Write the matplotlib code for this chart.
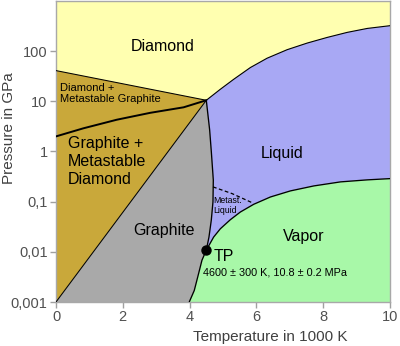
import matplotlib
matplotlib.use("Agg")
import matplotlib.pyplot as plt
import numpy as np

plt.rcParams['font.family'] = ['Liberation Sans', 'DejaVu Sans']

# --- data (T in 1000 K, P in GPa) ---
triple_T, triple_P = 4.5, 10.5          # diamond / graphite / liquid
tp_T, tp_P = 4.5, 0.0108                # graphite / liquid / vapor (TP)

upper_T = [0, 4.5]                       # Diamond | Diamond + metastable graphite
upper_P = [41, 10.5]
gd_T = [0, 0.82, 1.82, 2.82, 3.82, 4.5]  # graphite / diamond equilibrium
gd_P = [2.0, 2.9, 4.3, 5.9, 7.6, 10.5]
gedge_T = [0, 4.5]                       # graphite region edge
gedge_P = [0.001, 10.5]
melt_T = [4.5, 4.6, 4.65, 4.71, 4.7, 4.65, 4.58, 4.5]
melt_P = [10.5, 2.7, 1.0, 0.27, 0.1, 0.043, 0.0197, 0.0108]
sub_T = [3.99, 4.14, 4.27, 4.37, 4.5]
sub_P = [0.001, 0.0017, 0.0037, 0.0068, 0.0108]
lv_T = [4.5, 4.72, 4.92, 5.22, 5.52, 5.92, 6.42, 7.02, 7.72, 8.52, 9.32, 10]
lv_P = [0.0108, 0.0197, 0.0288, 0.0437, 0.0622, 0.0887, 0.124, 0.164, 0.206, 0.248, 0.272, 0.288]
dl_T = [4.5, 4.92, 5.32, 5.82, 6.32, 6.92, 7.52, 8.12, 8.72, 9.32, 10]
dl_P = [10.5, 17.4, 27.5, 47.2, 72.4, 107, 145, 188, 237, 284, 322]
meta_T = [4.7, 5.27, 5.87]
meta_P = [0.197, 0.145, 0.0955]

x_ticks = [0, 2, 4, 6, 8, 10]
y_ticks = [0.001, 0.01, 0.1, 1, 10, 100]
y_ticklabels = ['0,001', '0,01', '0,1', '1', '10', '100']

c_diamond = '#FFFFB0'
c_gold = '#C9A83A'
c_graphite = '#A9A9A9'
c_liquid = '#A8A8F4'
c_vapor = '#A8F8A8'

fig = plt.figure(figsize=(4.0, 3.46), dpi=100)
ax = fig.add_axes([56/400, 44/346, 334/400, 301/346])
ax.set_yscale('log')
ax.set_xlim(0, 10)
ax.set_ylim(0.001, 1000)
ax.set_facecolor(c_diamond)

# gold region
ax.fill(upper_T + gedge_T[::-1], upper_P + gedge_P[::-1], color=c_gold, lw=0, zorder=1)
# graphite region
gT = gedge_T + melt_T[1:] + sub_T[::-1][1:]
gP = gedge_P + melt_P[1:] + sub_P[::-1][1:]
ax.fill(gT, gP, color=c_graphite, lw=0, zorder=1)
# liquid region
lT = dl_T + lv_T[::-1] + melt_T[::-1][1:]
lP = dl_P + lv_P[::-1] + melt_P[::-1][1:]
ax.fill(lT, lP, color=c_liquid, lw=0, zorder=1)
# vapor region
vT = lv_T + [10, 3.99] + sub_T[1:]
vP = lv_P + [0.001, 0.001] + sub_P[1:]
ax.fill(vT, vP, color=c_vapor, lw=0, zorder=1)

lk = dict(color='black', zorder=3, solid_capstyle='round', solid_joinstyle='round')
ax.plot(upper_T, upper_P, lw=0.75, **lk)
ax.plot(gedge_T, gedge_P, lw=0.75, **lk)
ax.plot(gd_T, gd_P, lw=1.4, **lk)
ax.plot(melt_T, melt_P, lw=0.95, **lk)
ax.plot(sub_T, sub_P, lw=0.95, **lk)
ax.plot(lv_T, lv_P, lw=0.95, **lk)
ax.plot(dl_T, dl_P, lw=0.8, **lk)
ax.plot(meta_T, meta_P, lw=0.9, ls=(0, (3, 2)), color='black', zorder=3)
ax.plot([tp_T], [tp_P], 'o', color='black', ms=6.5, zorder=4)

big = 11.5
ax.text(3.18, 124, 'Diamond', fontsize=big, ha='center', va='center')
ax.text(0.12, 14.2, 'Diamond +\nMetastable Graphite', fontsize=8, ha='left', va='center', linespacing=1.15)
ax.text(0.36, 0.62, 'Graphite +\nMetastable\nDiamond', fontsize=big, ha='left', va='center', linespacing=1.25)
ax.text(3.22, 0.0263, 'Graphite', fontsize=big, ha='center', va='center')
ax.text(6.78, 0.9, 'Liquid', fontsize=big, ha='center', va='center')
ax.text(7.41, 0.0206, 'Vapor', fontsize=big, ha='center', va='center')
ax.text(4.71, 0.0079, 'TP', fontsize=big, ha='left', va='center')
ax.text(4.41, 0.0038, '4600 ± 300 K, 10.8 ± 0.2 MPa', fontsize=7.8, ha='left', va='center')
ax.text(4.71, 0.085, 'Metast.\nLiquid', fontsize=6.3, ha='left', va='center', linespacing=1.2)

ax.set_xticks(x_ticks)
ax.set_xticklabels([str(t) for t in x_ticks])
ax.set_yticks(y_ticks)
ax.set_yticklabels(y_ticklabels)
ax.yaxis.set_minor_locator(matplotlib.ticker.NullLocator())
ax.tick_params(axis='both', direction='out', length=4, width=1, color='#A0A0A0',
               labelcolor='#505050', labelsize=10.5, pad=2)
for s in ax.spines.values():
    s.set_color('#A8A8A8')
    s.set_linewidth(1.0)

fig.text(270/400, 1 - 337/346, 'Temperature in 1000 K', fontsize=11, color='#404040',
         ha='center', va='center')
fig.text(9/400, 1 - 128/346, 'Pressure in GPa', fontsize=11, color='#404040',
         ha='center', va='center', rotation=90)

fig.savefig('out.png', dpi=100)
